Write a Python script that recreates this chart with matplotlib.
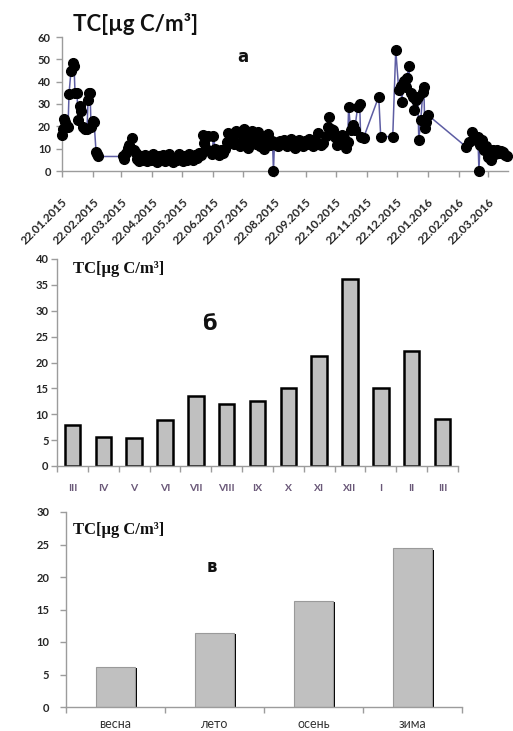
import numpy as np
import pandas as pd
import matplotlib
matplotlib.use("Agg")
import matplotlib.pyplot as plt

# --- суточные концентрации TC (день от начала отбора, мкг C/м3) ---
start_date = "2015-01-22"
sample_day = [
    0, 1, 2, 3, 5, 6, 7, 9, 11, 12, 13, 15, 16, 18, 19, 21, 23, 25, 26, 27,
    28, 29, 31, 32, 34, 35, 36, 61, 62, 64, 66, 67, 69, 70, 72, 74, 75, 77,
    79, 81, 83, 85, 87, 89, 91, 93, 95, 97, 99, 101, 103, 105, 107, 109, 111,
    113, 115, 117, 119, 121, 123, 125, 127, 129, 131, 133, 135, 137, 139, 141,
    142, 144, 146, 148, 150, 151, 153, 155, 157, 159, 161, 163, 165, 166, 168,
    170, 172, 174, 176, 178, 180, 182, 184, 186, 188, 190, 192, 194, 196, 198,
    200, 202, 204, 206, 208, 210, 211, 212, 214, 216, 218, 220, 222, 224, 226,
    228, 230, 232, 234, 236, 238, 240, 242, 244, 246, 248, 250, 252, 255, 258,
    260, 263, 265, 266, 268, 270, 272, 274, 277, 279, 281, 283, 285, 286, 288,
    290, 292, 295, 297, 298, 301, 316, 318, 330, 333, 336, 338, 339, 341, 343,
    344, 346, 348, 350, 351, 353, 355, 356, 358, 360, 361, 362, 363, 365, 403,
    406, 409, 411, 413, 415, 416, 417, 419, 421, 423, 425, 427, 428, 430, 432,
    434, 436, 438, 440, 442, 444,
]
tc_daily = [
    16.0, 19.0, 23.5, 22.0, 20.0, 19.5, 34.5, 45.0, 48.5, 47.0, 35.0, 35.0,
    23.0, 29.0, 27.0, 19.5, 19.0, 19.0, 32.0, 35.0, 35.0, 19.5, 22.5, 22.0,
    8.5, 7.5, 6.5, 6.5, 5.5, 8.0, 10.5, 11.5, 10.0, 14.8, 9.5, 8.0, 5.5, 4.5,
    6.5, 5.0, 7.0, 4.5, 6.0, 5.0, 7.5, 5.0, 4.0, 6.5, 5.5, 7.0, 4.5, 5.5, 7.5,
    5.0, 4.0, 6.0, 5.0, 7.5, 5.5, 4.5, 6.5, 5.0, 7.5, 6.0, 5.0, 7.0, 6.0, 8.0,
    7.0, 16.0, 12.5, 10.0, 15.5, 9.0, 7.5, 15.5, 10.0, 8.0, 7.0, 9.5, 8.0,
    10.0, 13.0, 17.0, 16.0, 15.0, 12.0, 18.0, 17.5, 11.0, 14.0, 19.0, 15.0,
    10.5, 13.0, 18.0, 16.0, 12.0, 17.5, 11.0, 14.0, 10.0, 15.0, 16.5, 11.5,
    13.5, 0.0, 13.0, 12.0, 11.0, 13.5, 12.5, 14.0, 11.0, 13.0, 14.5, 12.0,
    10.5, 13.0, 14.0, 12.5, 11.0, 13.5, 12.0, 14.5, 13.9, 11.0, 14.0, 17.0,
    11.6, 12.5, 15.5, 19.8, 24.3, 19.0, 18.4, 15.4, 11.6, 14.0, 16.1, 14.8,
    10.5, 13.1, 28.8, 18.5, 20.6, 18.4, 28.8, 30.0, 15.4, 15.0, 33.3, 15.4,
    15.4, 54.2, 36.3, 38.0, 31.0, 40.5, 37.5, 41.5, 47.0, 34.8, 33.3, 27.3,
    31.8, 33.3, 13.9, 22.8, 35.5, 37.8, 19.1, 22.0, 25.1, 10.9, 13.0, 17.6,
    15.4, 14.0, 15.4, 0.0, 11.6, 13.9, 9.4, 11.0, 6.4, 8.0, 4.9, 9.4, 7.5,
    9.4, 8.0, 9.0, 8.5, 7.0, 6.5,
]
tick_dates = [
    "2015-01-22", "2015-02-22", "2015-03-22", "2015-04-22", "2015-05-22",
    "2015-06-22", "2015-07-22", "2015-08-22", "2015-09-22", "2015-10-22",
    "2015-11-22", "2015-12-22", "2016-01-22", "2016-02-22", "2016-03-22",
]
tick_labels = [
    "22.01.2015", "22.02.2015", "22.03.2015", "22.04.2015", "22.05.2015",
    "22.06.2015", "22.07.2015", "22.08.2015", "22.09.2015", "22.10.2015",
    "22.11.2015", "22.12.2015", "22.01.2016", "22.02.2016", "22.03.2016",
]

# --- среднемесячные значения ---
months = ["III", "IV", "V", "VI", "VII", "VIII", "IX", "X", "XI", "XII", "I", "II", "III"]
tc_month = [7.9, 5.6, 5.4, 8.8, 13.6, 12.0, 12.6, 15.0, 21.2, 36.2, 15.0, 22.2, 9.1]

# --- сезонные средние ---
seasons = ["весна", "лето", "осень", "зима"]
tc_season = [6.2, 11.4, 16.3, 24.4]

W, H = 513, 731
fig = plt.figure(figsize=(W / 100, H / 100), dpi=100)

def box(left, top, right, bottom):
    # пиксели -> доли фигуры
    return [left / W, 1 - bottom / H, (right - left) / W, (bottom - top) / H]

def ftext(x, y, s, **kw):
    fig.text(x / W, 1 - y / H, s, **kw)

def style(ax):
    for side in ("top", "right"):
        ax.spines[side].set_visible(False)
    for side in ("left", "bottom"):
        ax.spines[side].set_color("#9c9c9c")
        ax.spines[side].set_linewidth(1.0)
    ax.tick_params(which="both", color="#9c9c9c", length=4, width=1.0)

sans = ["Lato", "DejaVu Sans"]
cyr = ["DejaVu Sans"]
serif = ["Liberation Serif", "DejaVu Serif"]

# ---------- а: суточный ряд ----------
ax1 = fig.add_axes(box(62, 37, 508, 171))
dates = pd.Timestamp(start_date) + pd.to_timedelta(sample_day, unit="D")
ax1.plot(dates, tc_daily, color="#5d5da3", lw=1.1, marker="o", ms=7,
         mfc="black", mec="black", clip_on=False, zorder=3)
ax1.set_xlim(pd.Timestamp("2015-01-22"), pd.Timestamp("2016-04-11"))
ax1.set_ylim(0, 60)
ax1.set_yticks(range(0, 61, 10))
ax1.set_xticks(pd.to_datetime(tick_dates))
ax1.set_xticklabels(tick_labels, rotation=45, ha="right", rotation_mode="anchor")
style(ax1)
ax1.tick_params(axis="y", pad=4)
ax1.tick_params(axis="x", pad=14)
for lab in ax1.get_yticklabels():
    lab.set_fontfamily(sans)
    lab.set_fontweight("bold")
    lab.set_fontsize(8)
    lab.set_color("#262626")
for lab in ax1.get_xticklabels():
    lab.set_fontfamily(sans)
    lab.set_fontweight("bold")
    lab.set_fontsize(8.5)
    lab.set_color("#262626")

ftext(73, 24, "TC[µg C/m³]", family=sans, fontweight="bold", fontsize=16,
      va="center", ha="left", color="#111111")
ftext(243, 57, "а", family=cyr, fontweight="bold", fontsize=12,
      va="center", ha="center", color="#111111")

# ---------- б: по месяцам ----------
ax2 = fig.add_axes(box(57, 259, 458, 466))
xm = np.arange(len(months))
ax2.bar(xm, tc_month, width=0.5, color="#c0c0c0", edgecolor="black",
        linewidth=1.8, zorder=2)
ax2.set_xlim(-0.5, len(months) - 0.5)
ax2.set_ylim(0, 40)
ax2.set_yticks(range(0, 41, 5))
ax2.set_xticks(xm)
ax2.set_xticklabels(months)
ax2.set_xticks(np.arange(-0.5, len(months), 1.0), minor=True)
style(ax2)
ax2.tick_params(axis="x", which="major", length=0, pad=13)
ax2.tick_params(axis="y", pad=2)
for lab in ax2.get_yticklabels():
    lab.set_fontfamily(sans)
    lab.set_fontweight("bold")
    lab.set_fontsize(8)
    lab.set_color("#262626")
for lab in ax2.get_xticklabels():
    lab.set_fontfamily(sans)
    lab.set_fontsize(7.5)
    lab.set_fontweight("bold")
    lab.set_color("#6a5878")

ftext(73, 269, "TC[µg C/m³]", family=serif, fontweight="bold", fontsize=12,
      va="center", ha="left", color="#111111")
ftext(209, 324, "б", family=cyr, fontweight="bold", fontsize=15,
      va="center", ha="center", color="#111111")

# ---------- в: по сезонам ----------
ax3 = fig.add_axes(box(66, 512, 462, 707))
xs = np.arange(len(seasons))
ax3.bar(xs + 0.02, [v - 0.2 for v in tc_season], width=0.4, color="black", zorder=1)
ax3.bar(xs, tc_season, width=0.4, color="#c0c0c0", edgecolor="#9a9a9a",
        linewidth=0.8, zorder=2)
ax3.set_xlim(-0.5, len(seasons) - 0.5)
ax3.set_ylim(0, 30)
ax3.set_yticks(range(0, 31, 5))
ax3.set_xticks(xs)
ax3.set_xticklabels(seasons)
ax3.set_xticks(np.arange(-0.5, len(seasons), 1.0), minor=True)
style(ax3)
ax3.tick_params(axis="x", which="major", length=0, pad=8)
ax3.tick_params(axis="y", pad=8)
for lab in ax3.get_yticklabels():
    lab.set_fontfamily(sans)
    lab.set_fontweight("bold")
    lab.set_fontsize(8)
    lab.set_color("#262626")
for lab in ax3.get_xticklabels():
    lab.set_fontfamily(sans)
    lab.set_fontsize(9)
    lab.set_color("#333333")

ftext(73, 530, "TC[µg C/m³]", family=serif, fontweight="bold", fontsize=12,
      va="center", ha="left", color="#111111")
ftext(212, 567, "в", family=cyr, fontweight="bold", fontsize=12,
      va="center", ha="center", color="#111111")

fig.savefig("out.png", dpi=100, facecolor="white")
